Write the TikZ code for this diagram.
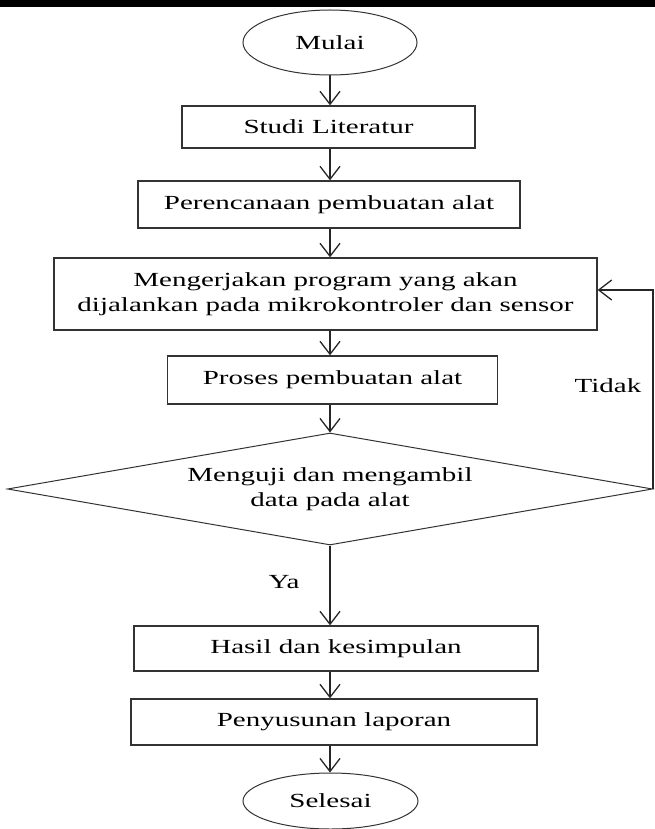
\documentclass[tikz,border=0pt]{standalone}
\usepackage{fontspec}
\setmainfont[FakeStretch=1.45]{Liberation Serif}
\usetikzlibrary{shapes.geometric,arrows.meta}
\tikzset{
  procbox/.style={rectangle, draw=black!80, line width=1.3pt, inner sep=0pt, align=center},
  termnode/.style={ellipse, draw=black!80, line width=1pt, inner sep=0pt},
  decnode/.style={diamond, draw=black!80, line width=1pt, inner sep=0pt, aspect=5.7, align=center},
  arr/.style={draw=black!85, line width=1.3pt, -{Straight Barb[length=13pt,width=20pt]}},
  lbl/.style={inner sep=0pt}
}
\begin{document}
\begin{tikzpicture}[x=1pt,y=-1pt,font=\fontsize{20}{25.5}\selectfont]
\useasboundingbox (0,0) rectangle (655,829);
\fill[black] (0,0) rectangle (655,7);
\coordinate (axis) at (330,0);
\node[termnode, minimum width=174pt, minimum height=65pt] (mulai) at (330,42.5) {Mulai};
\node[procbox, minimum width=293pt, minimum height=42pt] (studi) at (328.5,127) {Studi Literatur};
\node[procbox, minimum width=382pt, minimum height=47pt] (perenc) at (329,204.5) {Perencanaan pembuatan alat};
\node[procbox, minimum width=543pt, minimum height=72pt] (meng) at (325.5,294) {Mengerjakan program yang akan\\dijalankan pada mikrokontroler dan sensor};
\node[procbox, minimum width=330pt, minimum height=48pt] (proses) at (332.5,380) {Proses pembuatan alat};
\node[decnode, minimum width=645pt, minimum height=112pt] (dia) at (330,489) {Menguji dan mengambil\\data pada alat};
\node[procbox, minimum width=404pt, minimum height=45pt] (hasil) at (336,648.5) {Hasil dan kesimpulan};
\node[procbox, minimum width=406pt, minimum height=46pt] (peny) at (334,722) {Penyusunan laporan};
\node[termnode, minimum width=175pt, minimum height=56pt] (selesai) at (330.5,801) {Selesai};
\node[lbl] (ya) at (284,582) {Ya};
\node[lbl] (tidak) at (608,386) {Tidak};
\draw[arr] (mulai.south -| axis) -- (studi.north -| axis);
\draw[arr] (studi.south -| axis) -- (perenc.north -| axis);
\draw[arr] (perenc.south -| axis) -- (meng.north -| axis);
\draw[arr] (meng.south -| axis) -- (proses.north -| axis);
\draw[arr] (proses.south -| axis) -- (dia.north -| axis);
\draw[arr] (dia.south -| axis) -- (hasil.north -| axis);
\draw[arr] (hasil.south -| axis) -- (peny.north -| axis);
\draw[arr] (peny.south -| axis) -- (selesai.north -| axis);
\draw[arr] (dia.east) |- ([yshift=4pt]meng.east);
\end{tikzpicture}
\end{document}
